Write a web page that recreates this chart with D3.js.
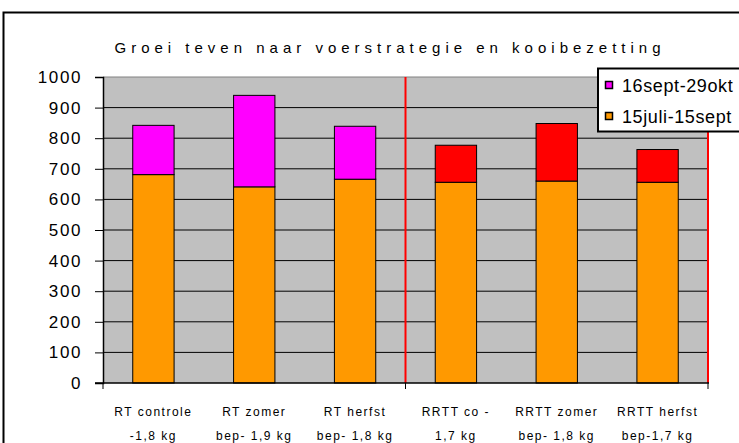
<!DOCTYPE html>
<html>
<head>
<meta charset="utf-8">
<script src="https://cdn.jsdelivr.net/npm/d3@7"></script>
<style>
  body { margin: 0; background: #fff; }
  text { font-family: Arial, "Liberation Sans", sans-serif; }
</style>
</head>
<body>
<div id="content"></div>
<script>
const svgWidth = 739, svgHeight = 443;

const categories = ["RT controle|-1,8 kg", "RT zomer|bep- 1,9 kg", "RT herfst|bep- 1,8 kg",
  "RRTT co -|1,7 kg", "RRTT zomer|bep- 1,8 kg", "RRTT herfst|bep-1,7 kg"];
const summer = [681, 641, 666, 656, 660, 656];     // 15juli-15sept
const autumn = [161, 299, 173, 121, 188, 107];     // 16sept-29okt
const autumnColors = ["#ff00ff", "#ff00ff", "#ff00ff", "#ff0000", "#ff0000", "#ff0000"];
const yTicks = [0, 100, 200, 300, 400, 500, 600, 700, 800, 900, 1000];
const legendItems = [
  { label: "16sept-29okt", color: "#ff00ff" },
  { label: "15juli-15sept", color: "#ff9900" }
];

const svg = d3.select("#content").append("svg")
  .attr("width", svgWidth)
  .attr("height", svgHeight);

// outer chart border
svg.append("rect")
  .attr("x", 3.5).attr("y", 12.5)
  .attr("width", 760).attr("height", 460)
  .attr("fill", "#fff").attr("stroke", "#000").attr("stroke-width", 2);

const pLeft = 103, pRight = 708, pTop = 77, pBottom = 383;

const x = d3.scaleBand().domain(d3.range(categories.length))
  .range([pLeft, pRight]).paddingInner(0.59).paddingOuter(0.295);
const y = d3.scaleLinear().domain([0, 1000]).range([pBottom, pTop]);

// plot area
svg.append("rect")
  .attr("x", pLeft).attr("y", pTop)
  .attr("width", pRight - pLeft).attr("height", pBottom - pTop)
  .attr("fill", "#c0c0c0");

// gridlines
svg.append("g").selectAll("line")
  .data(yTicks.filter(d => d > 0)).enter().append("line")
  .attr("x1", pLeft).attr("x2", pRight)
  .attr("y1", d => y(d)).attr("y2", d => y(d))
  .attr("stroke", d => d === 1000 ? "#808080" : "#000")
  .attr("stroke-width", 1);

// group separators
svg.append("g").selectAll("line")
  .data([3, 6]).enter().append("line")
  .attr("x1", d => pLeft + (pRight - pLeft) * d / 6)
  .attr("x2", d => pLeft + (pRight - pLeft) * d / 6)
  .attr("y1", pTop).attr("y2", pBottom)
  .attr("stroke", "#ff0000").attr("stroke-width", 2);

// bars
const bars = svg.append("g");
bars.selectAll(".s1")
  .data(summer).enter().append("rect")
  .attr("x", (d, i) => x(i)).attr("width", x.bandwidth())
  .attr("y", d => y(d)).attr("height", d => pBottom - y(d))
  .attr("fill", "#ff9900").attr("stroke", "#000").attr("stroke-width", 1);
bars.selectAll(".s2")
  .data(autumn).enter().append("rect")
  .attr("x", (d, i) => x(i)).attr("width", x.bandwidth())
  .attr("y", (d, i) => y(summer[i] + d))
  .attr("height", (d, i) => y(summer[i]) - y(summer[i] + d))
  .attr("fill", (d, i) => autumnColors[i]).attr("stroke", "#000").attr("stroke-width", 1);

// y axis
const yAxis = svg.append("g")
  .attr("transform", `translate(${pLeft},0)`)
  .call(d3.axisLeft(y).tickValues(yTicks).tickFormat(d3.format("d")).tickSize(8).tickPadding(13));
yAxis.select(".domain").attr("stroke-width", 1.5);
yAxis.selectAll("text")
  .attr("font-size", 17).attr("letter-spacing", 1.6).attr("fill", "#000");

// x axis
const xAxis = svg.append("g").attr("transform", `translate(0,${pBottom})`);
xAxis.append("line")
  .attr("x1", pLeft - 8).attr("x2", pRight + 1)
  .attr("y1", 0).attr("y2", 0)
  .attr("stroke", "#000").attr("stroke-width", 1.5);
xAxis.selectAll(".tk")
  .data([0, 3, 6]).enter().append("line")
  .attr("x1", d => pLeft + (pRight - pLeft) * d / 6)
  .attr("x2", d => pLeft + (pRight - pLeft) * d / 6)
  .attr("y1", 0).attr("y2", 6)
  .attr("stroke", "#000").attr("stroke-width", 1);

const labels = svg.append("g").selectAll("text")
  .data(categories).enter().append("text")
  .attr("text-anchor", "middle")
  .attr("font-size", 12)
  .attr("letter-spacing", 1.5)
  .attr("fill", "#000");
labels.each(function (d, i) {
  const parts = d.split("|");
  const t = d3.select(this);
  parts.forEach((p, j) => {
    t.append("tspan")
      .attr("x", x(i) + x.bandwidth() / 2)
      .attr("y", 416 + j * 24)
      .text(p);
  });
});

// title
svg.append("text")
  .attr("x", 390).attr("y", 53)
  .attr("text-anchor", "middle")
  .attr("font-size", 15)
  .attr("letter-spacing", 5)
  .text("Groei teven naar voerstrategie en kooibezetting");

// legend
const lg = svg.append("g");
lg.append("rect")
  .attr("x", 598).attr("y", 68.5)
  .attr("width", 160).attr("height", 63)
  .attr("fill", "#fff").attr("stroke", "#000").attr("stroke-width", 2);
legendItems.forEach((d, i) => {
  lg.append("rect")
    .attr("x", 605.5).attr("y", 81.5 + i * 31)
    .attr("width", 7).attr("height", 7)
    .attr("fill", d.color).attr("stroke", "#000").attr("stroke-width", 1.5);
  lg.append("text")
    .attr("x", 622).attr("y", 92 + i * 31)
    .attr("font-size", 18)
    .attr("letter-spacing", 0.6)
    .text(d.label);
});
</script>
</body>
</html>
